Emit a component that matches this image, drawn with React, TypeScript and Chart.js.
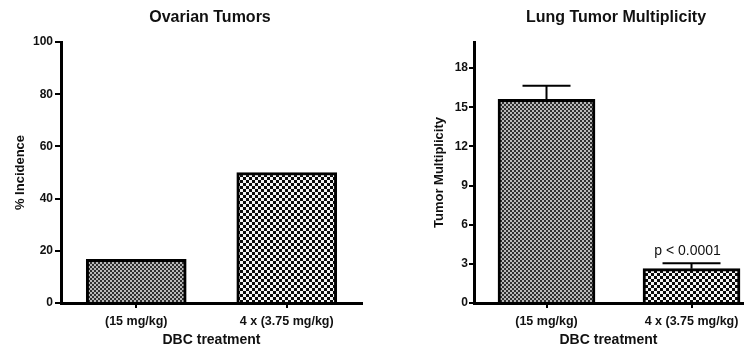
import React, { useEffect, useRef } from 'react';
import { Chart, registerables } from 'chart.js';

Chart.register(...registerables);

// ---- data ----
const ovarianCategories = ['(15 mg/kg)', '4 x (3.75 mg/kg)'];
const ovarianIncidence = [16.7, 50];
const ovarianYRange = [0, 100];
const ovarianYStep = 20;

const lungCategories = ['(15 mg/kg)', '4 x (3.75 mg/kg)'];
const lungPositions = [0, 1];
const lungMultiplicity = [15.6, 2.63];
const lungErrorTops = [16.65, 3.05];
const lungAnnotations = ['', 'p < 0.0001'];
const lungYRange = [0, 20];
const lungYStep = 3;
const lungYLastTick = 18;

const FONT = '"Liberation Sans", Arial, Helvetica, sans-serif';
const INK = '#111';

function makeChecker(cell: number, dark: string, light: string): CanvasPattern | string {
  const c = document.createElement('canvas');
  c.width = cell * 2;
  c.height = cell * 2;
  const g = c.getContext('2d');
  if (!g) return dark;
  g.fillStyle = light;
  g.fillRect(0, 0, cell * 2, cell * 2);
  g.fillStyle = dark;
  g.fillRect(0, 0, cell, cell);
  g.fillRect(cell, cell, cell, cell);
  return g.createPattern(c, 'repeat') || dark;
}

const errorBarPlugin = {
  id: 'errorBars',
  afterDatasetsDraw(chart: any, _args: any, opts: any) {
    if (!opts || !opts.tops) return;
    const meta = chart.getDatasetMeta(0);
    const y = chart.scales.y;
    const ctx = chart.ctx;
    ctx.save();
    ctx.strokeStyle = '#000';
    ctx.lineWidth = opts.lineWidth || 2;
    meta.data.forEach((bar: any, i: number) => {
      const top = y.getPixelForValue(opts.tops[i]);
      const half = opts.capWidths[i] / 2;
      ctx.beginPath();
      ctx.moveTo(bar.x, bar.y);
      ctx.lineTo(bar.x, top);
      ctx.moveTo(bar.x - half, top);
      ctx.lineTo(bar.x + half, top);
      ctx.stroke();
      const label = opts.labels && opts.labels[i];
      if (label) {
        ctx.fillStyle = INK;
        ctx.font = `14px ${FONT}`;
        ctx.textAlign = 'center';
        ctx.textBaseline = 'middle';
        ctx.fillText(label, bar.x + (opts.labelDx || 0), top - opts.labelGap);
      }
    });
    ctx.restore();
  },
};

const tickFont = { family: FONT, size: 12, weight: 'bold' as const };
const xTickFont = { family: FONT, size: 12.5, weight: 'bold' as const };
const titleFont = { family: FONT, size: 16, weight: 'bold' as const };
const axisTitleFont = { family: FONT, size: 13, weight: 'bold' as const };
const xTitleFont = { family: FONT, size: 14, weight: 'bold' as const };

function dummyRight(width: number) {
  return {
    type: 'linear' as const,
    position: 'right' as const,
    display: true,
    grid: { display: false },
    border: { display: false },
    ticks: { display: false },
    afterFit: (s: any) => {
      s.width = width;
    },
  };
}

export default function App() {
  const leftRef = useRef<HTMLCanvasElement>(null);
  const rightRef = useRef<HTMLCanvasElement>(null);

  useEffect(() => {
    const fine = makeChecker(2, '#2e2e2e', '#b8b8b8');
    const coarse = makeChecker(3, '#0a0a0a', '#f4f4f4');

    const left = new Chart(leftRef.current as HTMLCanvasElement, {
      type: 'bar',
      data: {
        labels: ovarianCategories,
        datasets: [
          {
            data: ovarianIncidence,
            backgroundColor: [fine, coarse] as any,
            borderColor: '#000',
            borderWidth: 3,
            barThickness: 100,
          },
        ],
      },
      options: {
        responsive: false,
        animation: false,
        layout: { padding: 0 },
        plugins: {
          legend: { display: false },
          tooltip: { enabled: false },
          title: {
            display: true,
            text: 'Ovarian Tumors',
            color: INK,
            font: titleFont,
            padding: { top: 7.6, bottom: 15.2 },
          },
        },
        scales: {
          x: {
            offset: true,
            grid: {
              display: true,
              drawOnChartArea: false,
              drawTicks: true,
              tickLength: 5,
              color: '#000',
              lineWidth: 2,
              offset: false,
            },
            border: { display: true, color: '#000', width: 3 },
            ticks: { color: INK, font: xTickFont, padding: 6.5, maxRotation: 0, autoSkip: false },
            title: {
              display: true,
              text: 'DBC treatment',
              color: INK,
              font: xTitleFont,
              padding: { top: 0, bottom: 3.6 },
            },
            afterFit: (s: any) => {
              s.height = 49;
            },
          },
          y: {
            min: ovarianYRange[0],
            max: ovarianYRange[1],
            ticks: { stepSize: ovarianYStep, color: INK, font: tickFont, padding: 2 },
            grid: {
              display: true,
              drawOnChartArea: false,
              drawTicks: true,
              tickLength: 6,
              color: '#000',
              lineWidth: 2,
            },
            border: { display: true, color: '#000', width: 3 },
            title: {
              display: true,
              text: '% Incidence',
              color: INK,
              font: axisTitleFont,
              padding: { top: 12.2, bottom: 0 },
            },
            afterFit: (s: any) => {
              s.width = 61;
            },
          },
          yr: dummyRight(58),
        } as any,
      },
    });

    const right = new Chart(rightRef.current as HTMLCanvasElement, {
      type: 'bar',
      data: {
        datasets: [
          {
            data: lungPositions.map((x, i) => ({ x, y: lungMultiplicity[i] })),
            backgroundColor: [fine, coarse] as any,
            borderColor: '#000',
            borderWidth: 3,
            barThickness: 97,
          },
        ],
      },
      plugins: [errorBarPlugin],
      options: {
        responsive: false,
        animation: false,
        layout: { padding: 0 },
        plugins: {
          legend: { display: false },
          tooltip: { enabled: false },
          title: {
            display: true,
            text: 'Lung Tumor Multiplicity',
            color: INK,
            font: titleFont,
            padding: { top: 7.6, bottom: 15.2 },
          },
          errorBars: {
            tops: lungErrorTops,
            capWidths: [48, 58],
            lineWidth: 2,
            labels: lungAnnotations,
            labelGap: 12,
            labelDx: -4,
          },
        } as any,
        scales: {
          x: {
            type: 'linear',
            min: -0.5,
            max: 1.355,
            offset: false,
            afterBuildTicks: (s: any) => {
              s.ticks = lungPositions.map((v) => ({ value: v }));
            },
            grid: {
              display: true,
              drawOnChartArea: false,
              drawTicks: true,
              tickLength: 5,
              color: '#000',
              lineWidth: 2,
              offset: false,
            },
            border: { display: true, color: '#000', width: 3 },
            ticks: {
              color: INK,
              font: xTickFont,
              padding: 6.5,
              maxRotation: 0,
              autoSkip: false,
              callback: (v: any) => {
                const idx = lungPositions.indexOf(Number(v));
                return idx >= 0 ? lungCategories[idx] : '';
              },
            },
            title: {
              display: true,
              text: 'DBC treatment',
              color: INK,
              font: xTitleFont,
              padding: { top: 0, bottom: 3.6 },
            },
            afterFit: (s: any) => {
              s.height = 49;
            },
          },
          y: {
            min: lungYRange[0],
            max: lungYRange[1],
            afterBuildTicks: (s: any) => {
              s.ticks = s.ticks.filter((t: any) => t.value <= lungYLastTick);
            },
            ticks: { stepSize: lungYStep, color: INK, font: tickFont, padding: 1 },
            grid: {
              display: true,
              drawOnChartArea: false,
              drawTicks: true,
              tickLength: 5,
              color: '#000',
              lineWidth: 2,
            },
            border: { display: true, color: '#000', width: 3 },
            title: {
              display: true,
              text: 'Tumor Multiplicity',
              color: INK,
              font: axisTitleFont,
              padding: { top: 11.2, bottom: 0 },
            },
            afterFit: (s: any) => {
              s.width = 54;
            },
          },
          yr: dummyRight(69),
        } as any,
      },
    });

    return () => {
      left.destroy();
      right.destroy();
    };
  }, []);

  return (
    <div
      style={{
        position: 'fixed',
        left: 0,
        top: 0,
        width: 752,
        height: 352,
        overflow: 'hidden',
        background: '#fff',
      }}
    >
      <canvas
        ref={leftRef}
        width={420}
        height={352}
        style={{ position: 'absolute', left: 0, top: 0, display: 'block' }}
      />
      <canvas
        ref={rightRef}
        width={392}
        height={352}
        style={{ position: 'absolute', left: 420, top: 0, display: 'block' }}
      />
    </div>
  );
}
